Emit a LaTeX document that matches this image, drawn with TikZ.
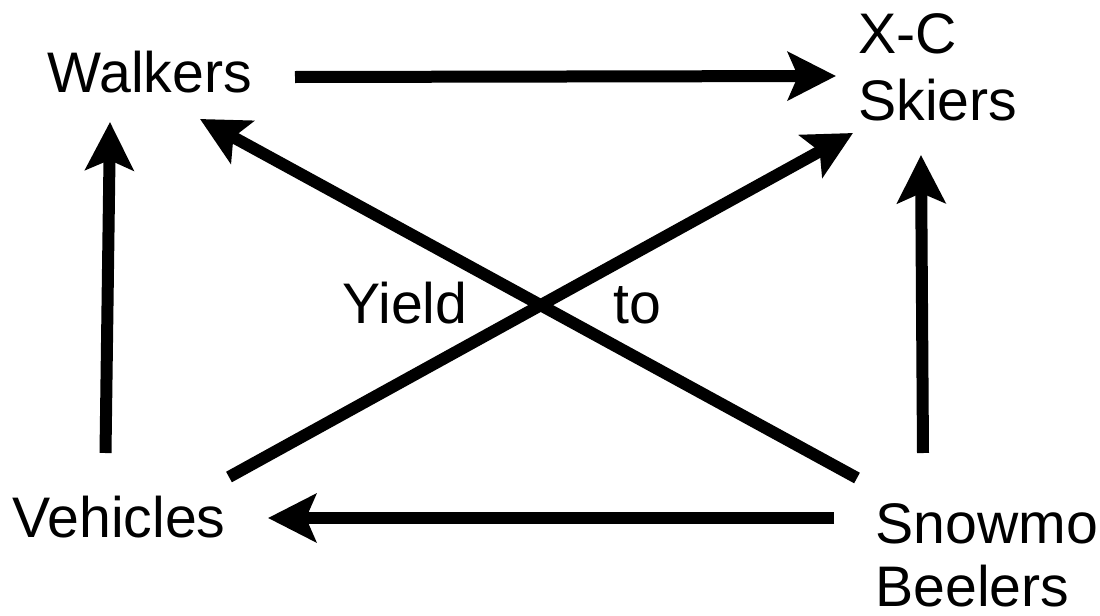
\documentclass[tikz,border=0pt]{standalone}
\usepackage{fontspec}
\setmainfont{Liberation Sans}
\usetikzlibrary{arrows.meta}
\begin{document}
\begin{tikzpicture}[x=0.5pt,y=-0.5pt,
  lbl/.style={inner sep=0pt,anchor=base west,font=\fontsize{28.6}{32}\selectfont,align=left},
  arr/.style={line width=6pt,-{Stealth[length=24pt,width=24pt,inset=5pt]}}]
\useasboundingbox (0,0) rectangle (1100,616);
\node[lbl] (walk) at (47,92) {Walkers};
\node[lbl,font=\fontsize{28.6}{33.5}\selectfont] (ski) at (858,120) {X-C\\Skiers};
\node[lbl] (veh) at (12,537) {Vehicles};
\node[lbl,font=\fontsize{28.6}{31.5}\selectfont] (snow) at (875,606) {Snowmo\\Beelers};
\node[lbl] (yield) at (342,323) {Yield};
\node[lbl] (to) at (613,323) {to};
% connector end points
\coordinate (w1) at (295,77);
\coordinate (s1) at (836,76);
\coordinate (v1) at (105.5,453);
\coordinate (w2) at (110,122);
\coordinate (sn1) at (923,453);
\coordinate (s2) at (921,155);
\coordinate (sn2) at (834,518);
\coordinate (v2) at (268,518);
\coordinate (sn3) at (857,478);
\coordinate (w3) at (200,119);
\coordinate (v3) at (229,477);
\coordinate (s3) at (853,133);
\draw[arr] (w1) -- (s1);
\draw[arr] (v1) -- (w2);
\draw[arr] (sn1) -- (s2);
\draw[arr] (sn2) -- (v2);
\draw[arr] (sn3) -- (w3);
\draw[arr] (v3) -- (s3);
\end{tikzpicture}
\end{document}
